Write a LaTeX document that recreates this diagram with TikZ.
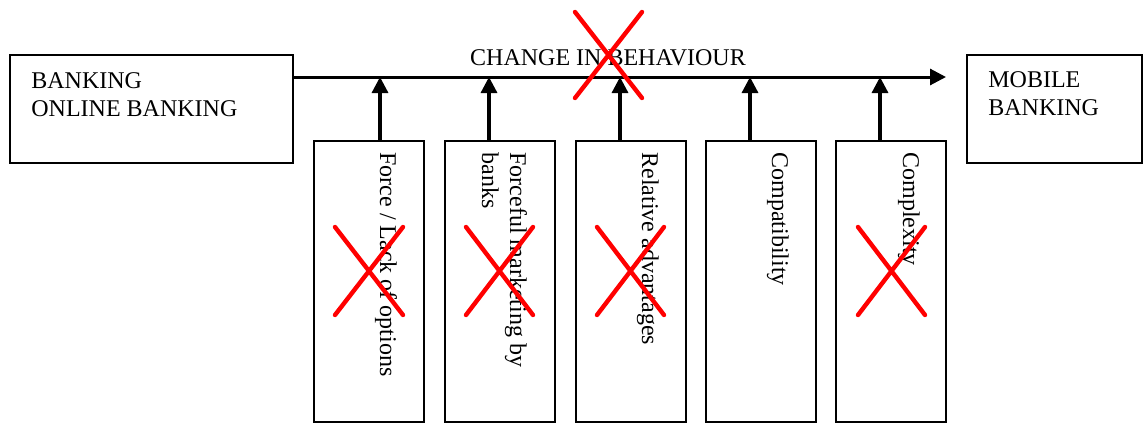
\documentclass[tikz,border=0pt]{standalone}
\usepackage{fontspec}
\setmainfont{Liberation Serif}
\usetikzlibrary{arrows.meta}

\tikzset{
	box/.style = {draw, line width=0.9pt, inner sep=0pt},
	txt/.style = {inner sep=0pt, align=left, font=\fontsize{12}{14}\selectfont},
	vtxt/.style = {txt, rotate=-90, anchor=base west},
	arr/.style = {line width=1.6pt, -{Triangle[length=8pt,width=8pt]}},
	redx/.style = {draw=red, line width=2.2pt, line cap=round}
}

\begin{document}
\begin{tikzpicture}[x=0.5pt,y=-0.5pt]
	
		%%Frame
		\useasboundingbox (0,0) rectangle (1146,423);
		
		%%Boxes
		\node[box, minimum width=141.5pt, minimum height=54pt] (bank) at (151.5,109) {};
		\node[box, minimum width=87.5pt, minimum height=54pt] (mobile) at (1054.5,109) {};
		\node[box, minimum width=55pt, minimum height=140.5pt] (f1) at (369,281.5) {};
		\node[box, minimum width=55pt, minimum height=140.5pt] (f2) at (500,281.5) {};
		\node[box, minimum width=55pt, minimum height=140.5pt] (f3) at (631,281.5) {};
		\node[box, minimum width=55pt, minimum height=140.5pt] (f4) at (761,281.5) {};
		\node[box, minimum width=55pt, minimum height=140.5pt] (f5) at (891,281.5) {};
		
		%%Labels (base = last line)
		\node[txt, anchor=base west] (bankTxt) at (31,116) {BANKING\\ONLINE BANKING};
		\node[txt, anchor=base west] (mobileTxt) at (988,115) {MOBILE\\BANKING};
		\node[txt, anchor=base] (change) at (608,65) {CHANGE IN BEHAVIOUR};
		\node[vtxt] (f1Txt) at (380,152) {Force / Lack of options};
		\node[vtxt] (f2Txt) at (482,152) {Forceful marketing by\\banks};
		\node[vtxt] (f3Txt) at (642,152) {Relative advantages};
		\node[vtxt] (f4Txt) at (772,152) {Compatibility};
		\node[vtxt] (f5Txt) at (903,152) {Complexity};
		
		%%Arrows
		\coordinate (tip) at (946,77);
		\coordinate (j1) at (380,77);
		\coordinate (j2) at (489,77);
		\coordinate (j3) at (620,77);
		\coordinate (j4) at (750,77);
		\coordinate (j5) at (880,77);
		\draw[arr, line width=1.5pt] (bank.east |- tip) -- (tip);
		\draw[arr] (j1 |- f1.north) -- (j1);
		\draw[arr] (j2 |- f2.north) -- (j2);
		\draw[arr] (j3 |- f3.north) -- (j3);
		\draw[arr] (j4 |- f4.north) -- (j4);
		\draw[arr] (j5 |- f5.north) -- (j5);
		
		%%Crosses
		\draw[redx] (575,12) -- (642,98) (575,98) -- (642,12);
		\draw[redx] (335,227) -- (403,315) (335,315) -- (403,227);
		\draw[redx] (466,227) -- (533,315) (466,315) -- (533,227);
		\draw[redx] (597,227) -- (664,315) (597,315) -- (664,227);
		\draw[redx] (858,227) -- (925,315) (858,315) -- (925,227);
		
	\end{tikzpicture}
\end{document}
